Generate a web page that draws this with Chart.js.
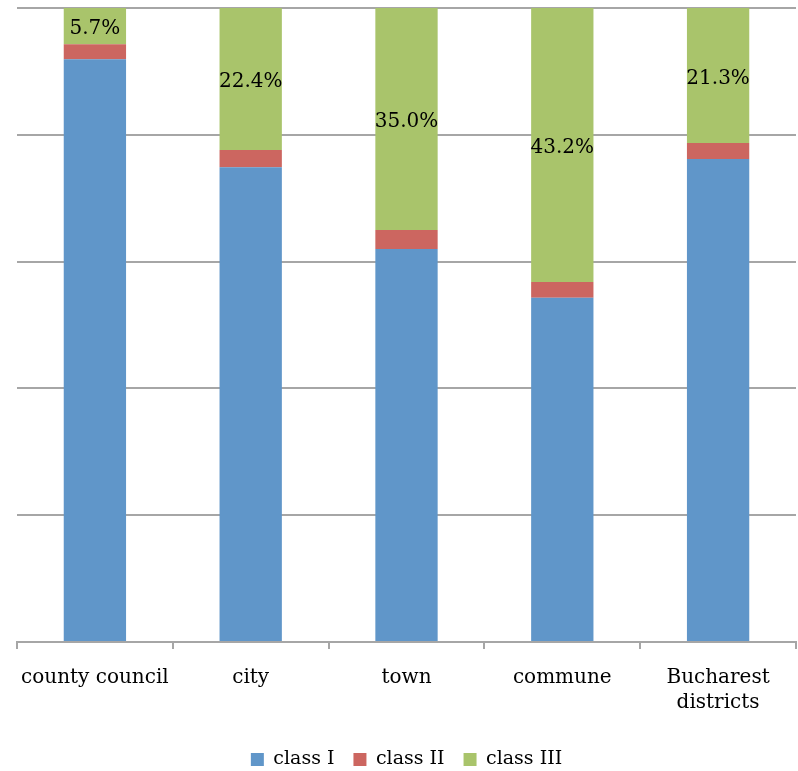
<!DOCTYPE html>
<html>
<head>
<meta charset="utf-8">
<script src="https://cdn.jsdelivr.net/npm/chart.js@4.4.1/dist/chart.umd.min.js"></script>
<style>
  html, body { margin: 0; padding: 0; background: #fff; }
  #wrap { width: 798px; height: 771px; }
</style>
</head>
<body>
<div id="wrap"><canvas id="chart" width="798" height="771"></canvas></div>
<script>
const categories = ['county council', 'city', 'town', 'commune', ['Bucharest', 'districts']];
const classI = [91.9, 74.9, 62.0, 54.3, 76.2];
const classII = [2.4, 2.7, 3.0, 2.5, 2.5];
const classIII = [5.7, 22.4, 35.0, 43.2, 21.3];
const yTicks = [0, 20, 40, 60, 80, 100];

const fontFamily = '"DejaVu Serif", "Liberation Serif", serif';

// labels for class III, centred in its segment
const segmentLabels = {
  id: 'segmentLabels',
  afterDatasetsDraw(chart) {
    const ctx = chart.ctx;
    const meta = chart.getDatasetMeta(2);
    ctx.save();
    ctx.font = '20px ' + fontFamily;
    ctx.fillStyle = '#000';
    ctx.textAlign = 'center';
    ctx.textBaseline = 'middle';
    meta.data.forEach((bar, i) => {
      const mid = (bar.y + bar.base) / 2;
      ctx.fillText(classIII[i].toFixed(1) + '%', bar.x, mid + 3);
    });
    ctx.restore();
  }
};

new Chart(document.getElementById('chart'), {
  type: 'bar',
  data: {
    labels: categories,
    datasets: [
      { label: 'class I', data: classI, backgroundColor: '#6096c9', borderWidth: 0 },
      { label: 'class II', data: classII, backgroundColor: '#cc6660', borderWidth: 0 },
      { label: 'class III', data: classIII, backgroundColor: '#a9c46b', borderWidth: 0 }
    ]
  },
  options: {
    responsive: false,
    animation: false,
    layout: { padding: { left: 17, right: 2, top: 8, bottom: -8 } },
    datasets: { bar: { barPercentage: 0.4, categoryPercentage: 1.0 } },
    plugins: {
      legend: {
        position: 'bottom',
        labels: {
          color: '#000',
          font: { family: fontFamily, size: 19 },
          boxWidth: 13,
          boxHeight: 13,
          padding: 19
        }
      },
      tooltip: { enabled: false }
    },
    scales: {
      x: {
        stacked: true,
        offset: true,
        grid: {
          offset: true,
          drawOnChartArea: false,
          drawTicks: true,
          tickLength: 7,
          color: '#a6a6a6',
          lineWidth: 2
        },
        border: { color: '#a6a6a6', width: 2 },
        ticks: {
          color: '#000',
          font: { family: fontFamily, size: 20, lineHeight: 1.25 },
          padding: 16,
          maxRotation: 0
        }
      },
      y: {
        stacked: true,
        min: 0,
        max: 100,
        afterBuildTicks(axis) { axis.ticks = yTicks.map(v => ({ value: v })); },
        ticks: { display: false },
        grid: { color: '#a6a6a6', lineWidth: 2, drawTicks: false },
        border: { display: false }
      }
    }
  },
  plugins: [segmentLabels]
});
</script>
</body>
</html>
